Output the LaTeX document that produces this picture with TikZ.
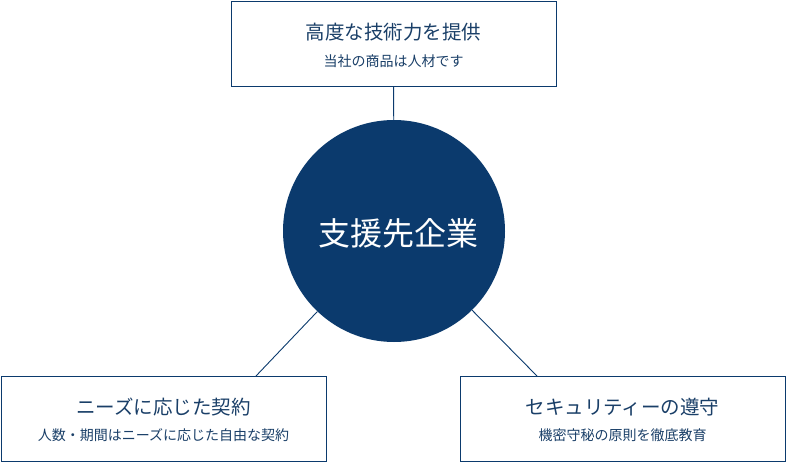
\documentclass[tikz,border=0pt]{standalone}
\usepackage{fontspec}
\usepackage{tikz}
\usetikzlibrary{positioning}
\newfontfamily\jpfont{Noto Sans CJK JP}
\definecolor{navy}{HTML}{0B3A6D}
\definecolor{navytext}{HTML}{1A3F68}
\tikzset{infobox/.style = {draw = navy, line width = 1pt, fill = white,
                           minimum width = 325pt, minimum height = 85pt,
                           inner sep = 0pt},
         hubnode/.style = {circle, fill = navy, minimum size = 222pt,
                           inner sep = 0pt},
         hubtext/.style = {text = white, inner sep = 0pt,
                           font = \jpfont\fontsize{32}{38}\selectfont},
         boxtitle/.style = {text = navytext, inner sep = 0pt,
                            font = \jpfont\fontsize{19.5}{24}\selectfont},
         boxsub/.style = {text = navytext, inner sep = 0pt,
                          font = \jpfont\fontsize{14}{17}\selectfont},
         link/.style = {draw = navy, line width = 0.9pt}}

\begin{document}
\begin{tikzpicture}[x = 1pt, y = -1pt]
    \useasboundingbox (0, 0) rectangle (787, 463);
    \node [hubnode] (hub) at (394, 231) {};
    \node [hubtext] (hublabel) at (398, 233.5) {支援先企業};
    \node [infobox] (tech) at (393.5, 43.5) {};
    \node [infobox] (need) at (163.5, 419) {};
    \node [infobox] (secu) at (622.5, 419) {};
    \node [boxtitle] (techtitle) at (393.5, 32) {高度な技術力を提供};
    \node [boxsub] (techsub) at (393.5, 61) {当社の商品は人材です};
    \node [boxtitle] (needtitle) at (163.5, 407) {ニーズに応じた契約};
    \node [boxsub] (needsub) at (163.5, 435) {人数・期間はニーズに応じた自由な契約};
    \node [boxtitle] (secutitle) at (622.5, 407) {セキュリティーの遵守};
    \node [boxsub] (secusub) at (622.5, 435) {機密守秘の原則を徹底教育};
    \coordinate (needjoin) at (256, 376);
    \coordinate (secujoin) at (537, 376);
    \draw [link] (hub) -- (tech);
    \draw [link] (hub) -- (needjoin);
    \draw [link] (hub) -- (secujoin);
  \end{tikzpicture}
\end{document}
